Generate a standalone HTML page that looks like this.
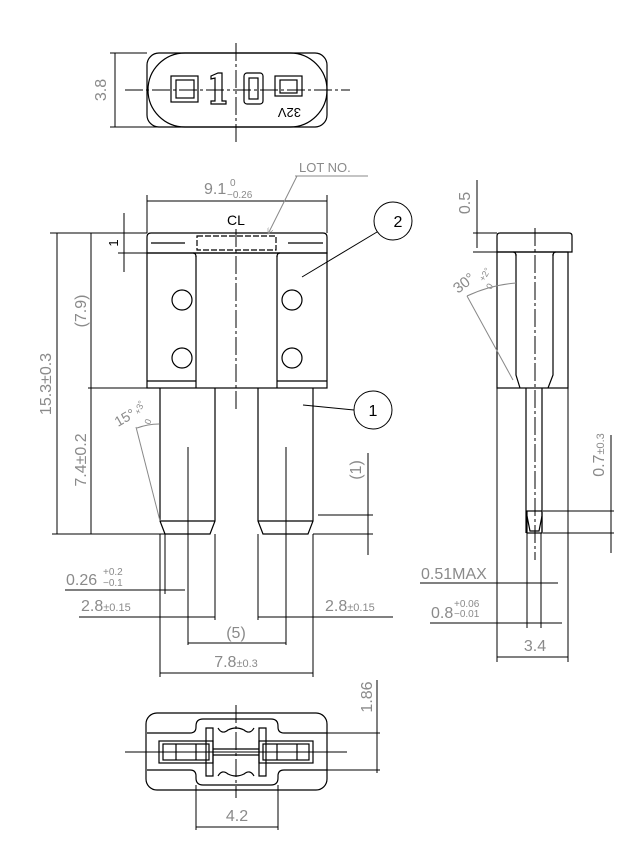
<!DOCTYPE html>
<html><head><style>
html,body{margin:0;padding:0;background:#fff}
svg{display:block}
text{font-family:"Liberation Sans",sans-serif;fill:#8a8a8a}
</style></head><body>
<svg width="633" height="863" viewBox="0 0 633 863" xmlns="http://www.w3.org/2000/svg">
<defs>
<marker id="a" viewBox="0 0 10 10" refX="10" refY="5" markerWidth="8" markerHeight="6" orient="auto-start-reverse" markerUnits="userSpaceOnUse"><path d="M0,0 L10,5 L0,10" fill="none" stroke="#888" stroke-width="1"/></marker>
</defs>
<g stroke="#000" stroke-width="1.2" fill="none">
<!-- TOP VIEW -->
<rect x="147" y="53" width="180" height="74" rx="12"/>
<path d="M185,53 L290,53 A37,37 0 0 1 290,127 L185,127 A37,37 0 0 1 185,53 Z"/>
<rect x="171" y="76" width="27" height="26"/><rect x="176" y="80" width="18" height="18"/>
<path d="M211,76 L218,73 L222,73 L222,101 L226,101 L226,104 L211,104 L211,101 L215,101 L215,78 L211,79 Z"/>
<rect x="244" y="73" width="19" height="31" rx="3"/><rect x="249" y="78" width="9" height="21"/>
<rect x="275" y="76" width="27" height="20"/><rect x="280" y="80" width="17" height="13"/>
<line x1="115" y1="53" x2="115" y2="127" stroke-width="1"/>
<line x1="110" y1="53" x2="147" y2="53" stroke-width="1"/>
<line x1="110" y1="127" x2="160" y2="127" stroke-width="1"/>
<line x1="125" y1="90" x2="350" y2="90" stroke-dasharray="18,3,3,3" stroke-width="1"/>
<line x1="236" y1="43" x2="236" y2="143" stroke-dasharray="18,3,3,3" stroke-width="1"/>

<!-- FRONT VIEW -->
<path d="M147,253 L147,237 Q147,233 151,233 L323,233 Q327,233 327,237 L327,253 Z"/>
<line x1="151" y1="243" x2="185" y2="243"/><line x1="288" y1="243" x2="323" y2="243"/>
<rect x="197" y="236" width="79" height="14" stroke-dasharray="6,2"/>
<rect x="147" y="253" width="180" height="135"/>
<line x1="196" y1="256" x2="196" y2="388"/><line x1="277" y1="256" x2="277" y2="388"/>
<path d="M193,253 Q196,253 196,257"/><path d="M280,253 Q277,253 277,257"/>
<line x1="147" y1="381" x2="196" y2="381"/><line x1="277" y1="381" x2="327" y2="381"/>
<circle cx="182" cy="300" r="10"/><circle cx="182" cy="358" r="10"/>
<circle cx="292" cy="300" r="10"/><circle cx="292" cy="358" r="10"/>
<path d="M160,388 L160,521 L165,534 L210,534 L215,521 L215,388"/>
<path d="M258,388 L258,521 L263,534 L308,534 L313,521 L313,388"/>
<line x1="160" y1="521" x2="215" y2="521"/><line x1="258" y1="521" x2="313" y2="521"/>
<line x1="188" y1="447" x2="188" y2="645" stroke-width="1"/>
<line x1="286" y1="447" x2="286" y2="645" stroke-width="1"/>
<line x1="236" y1="229" x2="236" y2="410" stroke-dasharray="18,3,3,3" stroke-width="1"/>
<!-- dims front -->
<g stroke-width="1">
<line x1="147" y1="195" x2="147" y2="233"/><line x1="327" y1="195" x2="327" y2="233"/>
<line x1="147" y1="201" x2="327" y2="201"/>
<line x1="295" y1="176" x2="368" y2="176" stroke="#888"/>
<line x1="297" y1="176" x2="268" y2="234" stroke="#888" marker-end="url(#a)"/>
<line x1="124" y1="213" x2="124" y2="272"/>
<line x1="118" y1="253" x2="147" y2="253"/>
<line x1="50" y1="233" x2="147" y2="233"/>
<line x1="57" y1="233" x2="57" y2="534"/><line x1="91" y1="233" x2="91" y2="534"/>
<line x1="88" y1="388" x2="147" y2="388"/>
<line x1="52" y1="534" x2="165" y2="534"/>
<circle cx="393" cy="221" r="19"/><line x1="302" y1="277" x2="377" y2="232"/>
<circle cx="373" cy="410" r="19"/><line x1="303" y1="405" x2="354" y2="410"/>
<line x1="136" y1="427" x2="160" y2="521" stroke="#888"/>
<path d="M137,428 Q148,424 159,424" stroke="#888"/>
<line x1="368" y1="453" x2="368" y2="555"/>
<line x1="318" y1="515" x2="373" y2="515"/><line x1="313" y1="534" x2="373" y2="534"/>
<line x1="165" y1="534" x2="165" y2="594"/>
<line x1="65" y1="590" x2="185" y2="590"/>
<line x1="79" y1="617" x2="215" y2="617"/><line x1="258" y1="617" x2="393" y2="617"/>
<line x1="160" y1="534" x2="160" y2="677"/><line x1="313" y1="534" x2="313" y2="677"/>
<line x1="215" y1="534" x2="215" y2="620"/><line x1="258" y1="534" x2="258" y2="620"/>
<line x1="188" y1="643" x2="286" y2="643"/>
<line x1="160" y1="673" x2="313" y2="673"/>
</g>

<!-- SIDE VIEW -->
<path d="M497,252 L497,236 Q497,233 500,233 L569,233 Q572,233 572,236 L572,252 Z"/>
<rect x="497" y="252" width="71" height="136"/>
<path d="M516,254 L516,375 L520,388 M553,254 L553,375 L548,388"/>
<path d="M513,252 Q516,252 516,256 M556,252 Q553,252 553,256"/>
<path d="M526,388 L526,533 M542,388 L542,533"/>
<rect x="527" y="511" width="15" height="22"/>
<path d="M527,516 L530,531 L539,531 L542,516"/>
<line x1="535" y1="228" x2="535" y2="560" stroke-dasharray="18,3,3,3" stroke-width="1"/>
<g stroke-width="1">
<line x1="497" y1="388" x2="497" y2="662"/><line x1="568" y1="388" x2="568" y2="662"/>
<line x1="497" y1="657" x2="568" y2="657"/>
<line x1="477" y1="180" x2="477" y2="248"/>
<line x1="473" y1="233" x2="497" y2="233"/><line x1="473" y1="252" x2="497" y2="252"/>
<line x1="467" y1="296" x2="513" y2="380" stroke="#888"/>
<path d="M467,296 Q490,285 516,283" stroke="#888"/>
<line x1="611" y1="435" x2="611" y2="553"/>
<line x1="543" y1="511" x2="614" y2="511"/><line x1="543" y1="533" x2="614" y2="533"/>
<line x1="527" y1="533" x2="527" y2="628"/><line x1="541" y1="533" x2="541" y2="628"/>
<line x1="420" y1="583" x2="558" y2="583"/>
<line x1="430" y1="623" x2="562" y2="623"/>
</g>

<!-- BOTTOM VIEW -->
<rect x="146" y="713" width="181" height="77" rx="11"/>
<path d="M147,733 L190,733 Q196,733 196,727 L196,726 Q196,719 203,719 L271,719 Q278,719 278,726 L278,727 Q278,733 284,733 L327,733 M147,770 L190,770 Q196,770 196,776 L196,778 Q196,785 203,785 L271,785 Q278,785 278,778 L278,776 Q278,770 284,770 L327,770"/>
<rect x="159" y="741" width="54" height="22"/><rect x="163" y="744" width="46" height="16"/>
<rect x="259" y="741" width="54" height="22"/><rect x="263" y="744" width="46" height="16"/>
<line x1="176" y1="744" x2="176" y2="760"/><line x1="196" y1="744" x2="196" y2="760"/>
<line x1="277" y1="744" x2="277" y2="760"/><line x1="297" y1="744" x2="297" y2="760"/>
<path d="M206,728 L206,776 L213,776 L213,728 Z M259,728 L259,776 L266,776 L266,728 Z"/>
<path d="M213,749 L259,749 M213,755 L259,755"/>
<path d="M218,728 Q222,735 228,730 Q236,726 244,730 Q250,735 254,728 M218,776 Q222,769 228,774 Q236,778 244,774 Q250,769 254,776"/>
<line x1="125" y1="752" x2="347" y2="752" stroke-width="1"/>
<line x1="236" y1="705" x2="236" y2="798" stroke-dasharray="18,3,3,3" stroke-width="1"/>
<g stroke-width="1">
<line x1="377" y1="680" x2="377" y2="773"/>
<line x1="327" y1="733" x2="380" y2="733"/><line x1="327" y1="770" x2="380" y2="770"/>
<line x1="196" y1="785" x2="196" y2="830"/><line x1="278" y1="785" x2="278" y2="830"/>
<line x1="196" y1="827" x2="278" y2="827"/>
</g>
</g>

<!-- TEXT -->
<g font-size="16">
<text transform="translate(106,90) rotate(-90)" text-anchor="middle">3.8</text>
<text x="279" y="120" transform="rotate(180 290 114)" font-size="13" style="fill:#000">32V</text>
<text x="204" y="194">9.1</text>
<text x="230" y="186" font-size="10">0</text>
<text x="227" y="198" font-size="10">−0.26</text>
<text x="299" y="172" font-size="13">LOT NO.</text>
<text x="236" y="225" text-anchor="middle" font-size="14" style="fill:#000">CL</text>
<text x="398" y="227" text-anchor="middle" font-size="16" style="fill:#000">2</text>
<text x="373" y="416" text-anchor="middle" font-size="16" style="fill:#000">1</text>
<text transform="translate(118,243) rotate(-90)" text-anchor="middle" font-size="13" style="fill:#000">1</text>
<text transform="translate(51,384) rotate(-90)" text-anchor="middle">15.3±0.3</text>
<text transform="translate(86,311) rotate(-90)" text-anchor="middle">(7.9)</text>
<text transform="translate(86,460) rotate(-90)" text-anchor="middle">7.4±0.2</text>
<text transform="translate(118,427) rotate(-30)" font-size="14">15°</text>
<text transform="translate(140,415) rotate(-70)" font-size="9">+3°</text>
<text transform="translate(150,425) rotate(-70)" font-size="9">0</text>
<text transform="translate(361,470) rotate(-90)" text-anchor="middle">(1)</text>
<text x="66" y="585">0.26</text>
<text x="103" y="575" font-size="10">+0.2</text>
<text x="103" y="586" font-size="10">−0.1</text>
<text x="81" y="611">2.8<tspan font-size="11">±0.15</tspan></text>
<text x="325" y="611">2.8<tspan font-size="11">±0.15</tspan></text>
<text x="236" y="638" text-anchor="middle">(5)</text>
<text x="236" y="667" text-anchor="middle">7.8<tspan font-size="11">±0.3</tspan></text>
<text transform="translate(470,203) rotate(-90)" text-anchor="middle">0.5</text>
<text transform="translate(458,294) rotate(-38)" font-size="15">30°</text>
<text transform="translate(484,282) rotate(-60)" font-size="9">+2°</text>
<text transform="translate(491,290) rotate(-60)" font-size="9">0</text>
<text transform="translate(604,455) rotate(-90)" text-anchor="middle">0.7<tspan font-size="11">±0.3</tspan></text>
<text x="421" y="579">0.51MAX</text>
<text x="431" y="618">0.8</text>
<text x="454" y="607" font-size="10">+0.06</text>
<text x="454" y="617" font-size="10">−0.01</text>
<text x="535" y="651" text-anchor="middle">3.4</text>
<text transform="translate(372,697) rotate(-90)" text-anchor="middle">1.86</text>
<text x="237" y="821" text-anchor="middle">4.2</text>
</g>
</svg>
</body></html>
